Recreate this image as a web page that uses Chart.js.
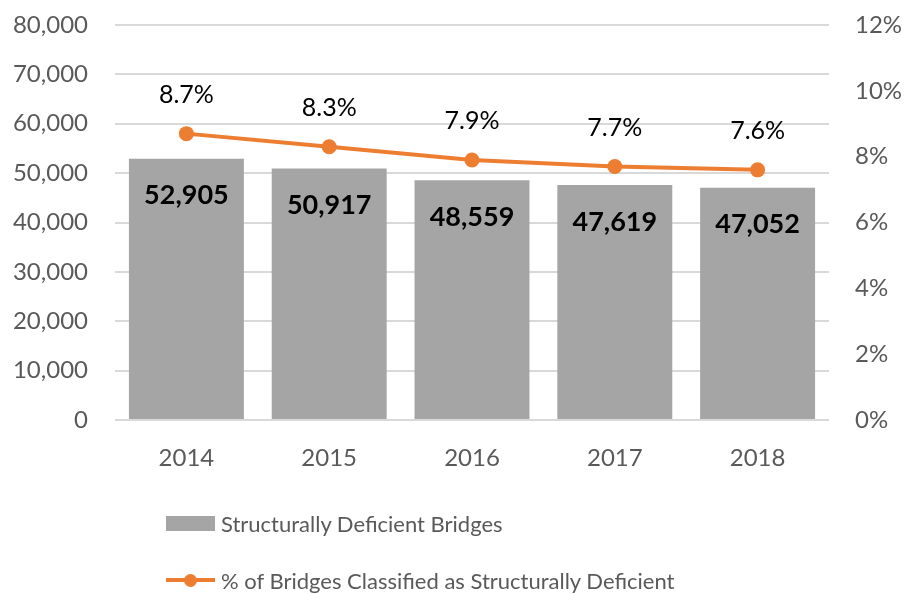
<!DOCTYPE html>
<html>
<head>
<meta charset="utf-8">
<script src="https://cdn.jsdelivr.net/npm/chart.js@4/dist/chart.umd.min.js"></script>
<style>
  html, body { margin: 0; padding: 0; background: #fff; }
  #wrap { position: relative; width: 916px; height: 594px; }
  #legend { position: absolute; left: 166px; top: 508px; font-family: Lato, sans-serif; font-size: 22px; color: #595959; }
  .item { display: flex; align-items: center; height: 30px; margin-bottom: 27px; }
  .sw { width: 49px; height: 15px; margin-right: 6px; position: relative; }
</style>
</head>
<body>
<div id="wrap">
  <canvas id="c" width="916" height="594"></canvas>
  <div id="legend"></div>
</div>
<script>
const years = ['2014', '2015', '2016', '2017', '2018'];
const bridgeCounts = [52905, 50917, 48559, 47619, 47052];
const pctDeficient = [8.7, 8.3, 7.9, 7.7, 7.6];
const leftTicks = [0, 10000, 20000, 30000, 40000, 50000, 60000, 70000, 80000];
const rightTicks = [0, 2, 4, 6, 8, 10, 12];
const barLabel = 'Structurally Deficient Bridges';
const lineLabel = '% of Bridges Classified as Structurally Deficient';

const GRAY = '#a5a5a5';
const ORANGE = '#ed7d31';
const FONT = 'Lato, sans-serif';

const labelPlugin = {
  id: 'valueLabels',
  afterDatasetsDraw(chart) {
    const ctx = chart.ctx;
    ctx.save();
    ctx.textAlign = 'center';
    ctx.textBaseline = 'middle';
    ctx.fillStyle = '#000';
    const barMeta = chart.getDatasetMeta(1);
    ctx.font = 'bold 27px ' + FONT;
    barMeta.data.forEach((el, i) => {
      ctx.fillText(bridgeCounts[i].toLocaleString('en-US'), el.x, el.y + 37);
    });
    const lineMeta = chart.getDatasetMeta(0);
    ctx.font = '25px ' + FONT;
    lineMeta.data.forEach((el, i) => {
      ctx.fillText(pctDeficient[i].toFixed(1) + '%', el.x, el.y - 39);
    });
    ctx.restore();
  }
};

const chart = new Chart(document.getElementById('c'), {
  data: {
    labels: years,
    datasets: [
      {
        type: 'line',
        label: lineLabel,
        data: pctDeficient,
        yAxisID: 'y1',
        borderColor: ORANGE,
        backgroundColor: ORANGE,
        borderWidth: 4,
        pointRadius: 7.5,
        pointHoverRadius: 7.5,
        pointBorderWidth: 0,
        tension: 0,
        order: 0
      },
      {
        type: 'bar',
        label: barLabel,
        data: bridgeCounts,
        yAxisID: 'y',
        backgroundColor: GRAY,
        categoryPercentage: 1,
        barPercentage: 0.805,
        order: 1
      }
    ]
  },
  options: {
    responsive: false,
    animation: false,
    layout: { autoPadding: false, padding: { top: 25, left: 0, right: 0, bottom: 0 } },
    plugins: { legend: { display: false }, tooltip: { enabled: false } },
    scales: {
      x: {
        grid: { display: false, drawTicks: false },
        border: { display: false },
        ticks: { color: '#595959', font: { family: FONT, size: 24 }, padding: 24 },
        afterFit(s) { s.height = 174; s.paddingLeft = 0; s.paddingRight = 0; }
      },
      y: {
        position: 'left',
        min: 0, max: 80000,
        afterBuildTicks(s) { s.ticks = leftTicks.map(v => ({ value: v })); },
        grid: { color: '#d9d9d9', lineWidth: 2, drawTicks: false },
        border: { display: false },
        ticks: {
          color: '#595959', font: { family: FONT, size: 24 }, padding: 27,
          callback: v => v.toLocaleString('en-US')
        },
        afterFit(s) { s.width = 115; s.paddingTop = 0; s.paddingBottom = 0; }
      },
      y1: {
        position: 'right',
        min: 0, max: 12,
        afterBuildTicks(s) { s.ticks = rightTicks.map(v => ({ value: v })); },
        grid: { display: false, drawTicks: false },
        border: { display: false },
        ticks: {
          color: '#595959', font: { family: FONT, size: 24 }, padding: 26,
          callback: v => v + '%'
        },
        afterFit(s) { s.width = 87; s.paddingTop = 0; s.paddingBottom = 0; }
      }
    }
  },
  plugins: [labelPlugin]
});

// HTML legend built from the chart's datasets
const legend = document.getElementById('legend');
[1, 0].forEach(idx => {
  const ds = chart.data.datasets[idx];
  const item = document.createElement('div');
  item.className = 'item';
  const sw = document.createElement('div');
  sw.className = 'sw';
  if (ds.type === 'bar') {
    sw.style.background = ds.backgroundColor;
  } else {
    sw.innerHTML = '<div style="position:absolute;left:0;top:5.5px;width:49px;height:4px;background:' + ds.borderColor + '"></div>' +
      '<div style="position:absolute;left:18px;top:1px;width:13px;height:13px;border-radius:50%;background:' + ds.borderColor + '"></div>';
  }
  const txt = document.createElement('span');
  txt.textContent = ds.label;
  item.appendChild(sw);
  item.appendChild(txt);
  legend.appendChild(item);
});
</script>
</body>
</html>
